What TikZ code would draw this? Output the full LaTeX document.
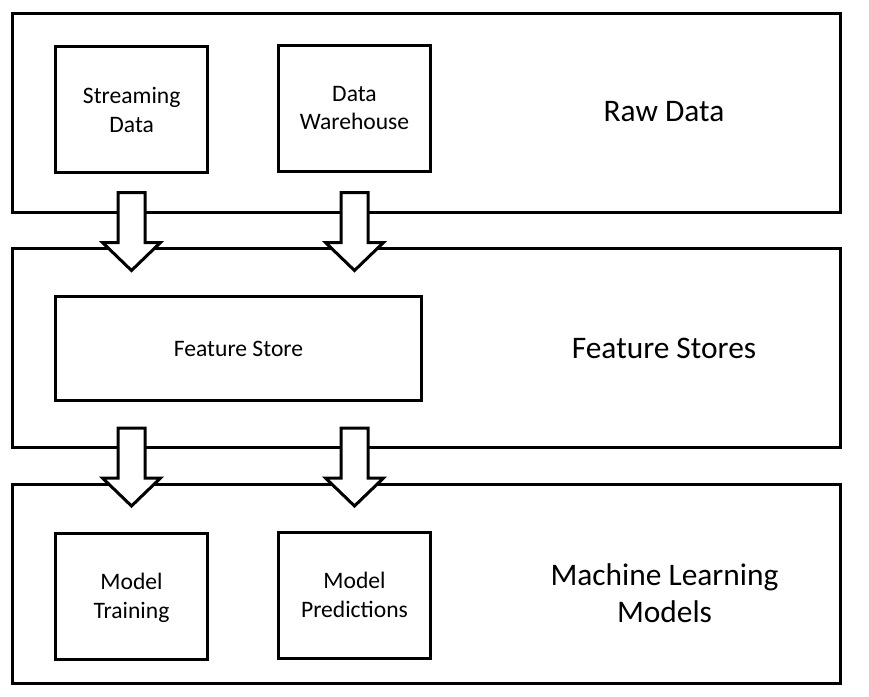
\documentclass[tikz,border=0pt]{standalone}
\usepackage{fontspec}
\setmainfont{Carlito}
\begin{document}
\begin{tikzpicture}[x=1pt,y=-1pt,
  outerbox/.style={draw, line width=3pt, minimum width=828pt, minimum height=199pt, inner sep=0pt},
  innerbox/.style={draw, line width=3pt, inner sep=0pt, align=center,
    font=\fontsize{23.6}{28.5}\selectfont, text depth=0pt},
  smallbox/.style={innerbox, minimum width=152pt, minimum height=126pt},
  biglabel/.style={align=center, font=\fontsize{31.4}{36.7}\selectfont, inner sep=0pt},
  blockarrow/.style={draw, fill=white, line width=3pt, line join=miter}]
\useasboundingbox (0,0) rectangle (869,696);
% layers
\node[outerbox] (raw) at (426,112.5) {};
\node[outerbox] (fs)  at (426,347.5) {};
\node[outerbox] (ml)  at (426,584) {};
% inner boxes
\node[smallbox] (stream) at (131.7,109.7) {Streaming\\Data};
\node[smallbox] (dw) at (354.5,108) {Data\\Warehouse};
\node[innerbox, minimum width=366pt, minimum height=104pt] (store) at (238.5,348.5) {Feature Store};
\node[smallbox] (train) at (131.5,596) {Model\\Training};
\node[smallbox] (pred) at (354.5,595) {Model\\Predictions};
% layer labels
\node[biglabel, anchor=base] (rawlbl) at (664,121.7) {Raw Data};
\node[biglabel, anchor=base] (fslbl) at (664,358.3) {Feature Stores};
\node[biglabel] (mllbl) at (664.5,593.5) {Machine Learning\\Models};
% block arrows
\coordinate (a1) at (131.5,192.5);
\coordinate (a2) at (354.5,192.5);
\coordinate (a3) at (131.5,428);
\coordinate (a4) at (354.5,428);
\foreach \c in {a1,a2,a3,a4}{
  \draw[blockarrow] (\c) ++(-13.5,0) -- ++(27,0) -- ++(0,50) -- ++(15.5,0)
    -- ++(-29,28) -- ++(-29,-28) -- ++(15.5,0) -- cycle;
}
\end{tikzpicture}
\end{document}
